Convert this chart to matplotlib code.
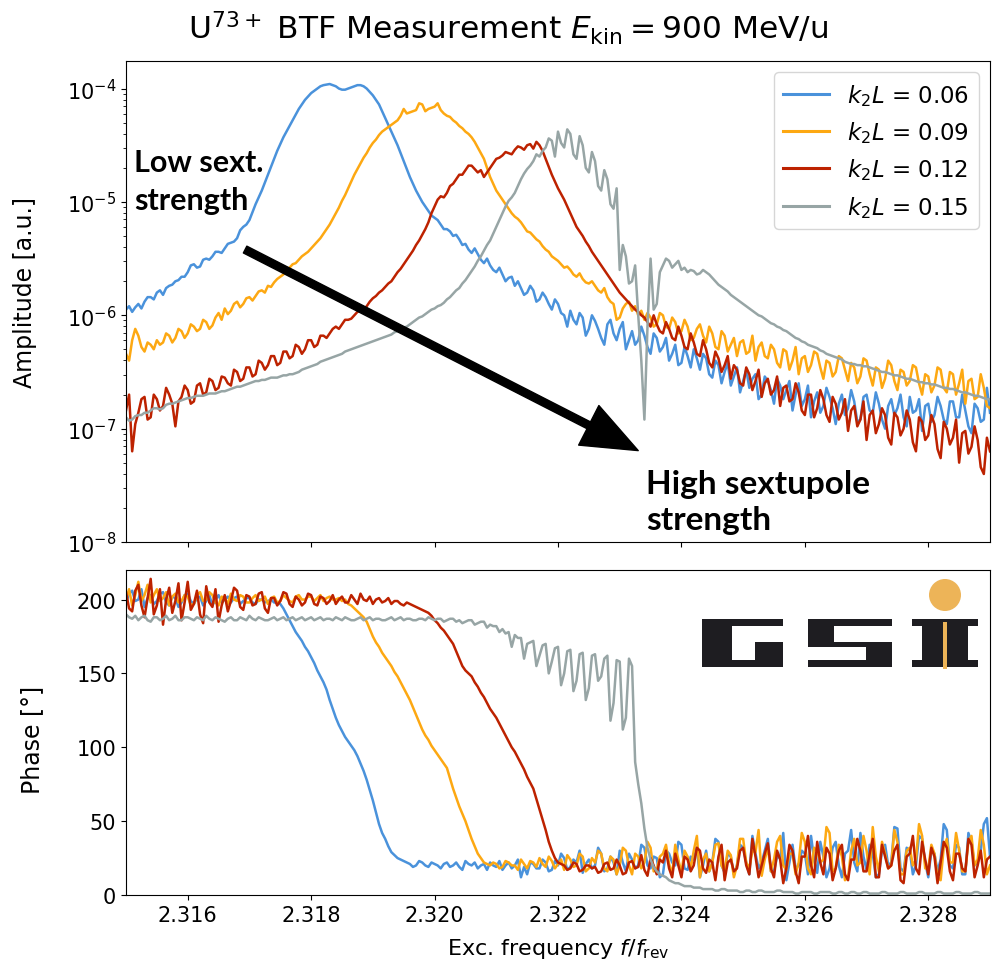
import numpy as np
import matplotlib
matplotlib.use("Agg")
import matplotlib.pyplot as plt
from matplotlib.patches import Rectangle, Circle

# excitation frequency grid (f / f_rev), 281 samples from 2.3150 to 2.3290
freq = np.linspace(2.315, 2.329, 281)

labels = ["$k_2L$ = 0.06", "$k_2L$ = 0.09", "$k_2L$ = 0.12", "$k_2L$ = 0.15"]
colors = ["#4A92DB", "#FDA812", "#BD2200", "#97A5A5"]

# log10 of BTF amplitude [a.u.]
log_amp_006 = [
    -5.95, -5.92, -5.97, -5.93, -5.90, -5.94, -5.88, -5.84, -5.84, -5.86,
    -5.80, -5.78, -5.82, -5.76, -5.74, -5.73, -5.70, -5.69, -5.66, -5.66,
    -5.62, -5.56, -5.55, -5.58, -5.57, -5.51, -5.50, -5.51, -5.48, -5.44,
    -5.44, -5.45, -5.41, -5.37, -5.36, -5.35, -5.32, -5.25, -5.22, -5.20,
    -5.16, -5.09, -5.02, -4.96, -4.90, -4.83, -4.76, -4.69, -4.62, -4.55,
    -4.49, -4.43, -4.38, -4.33, -4.28, -4.23, -4.18, -4.14, -4.10, -4.07,
    -4.04, -4.02, -4.00, -3.98, -3.97, -3.965, -3.96, -3.97, -3.98, -4.00,
    -4.01, -4.01, -4.00, -3.99, -3.98, -3.97, -3.97, -3.98, -4.00, -4.03,
    -4.06, -4.10, -4.14, -4.20, -4.26, -4.32, -4.38, -4.44, -4.50, -4.57,
    -4.64, -4.71, -4.78, -4.84, -4.90, -4.95, -5.00, -5.04, -5.08, -5.12,
    -5.14, -5.16, -5.20, -5.24, -5.24, -5.26, -5.30, -5.29, -5.33, -5.38,
    -5.37, -5.42, -5.45, -5.41, -5.46, -5.51, -5.54, -5.50, -5.56, -5.60,
    -5.62, -5.58, -5.64, -5.70, -5.67, -5.66, -5.74, -5.70, -5.76, -5.82,
    -5.80, -5.74, -5.78, -5.88, -5.86, -5.80, -5.84, -5.90, -5.95, -5.86,
    -5.90, -5.98, -6.00, -6.10, -5.96, -6.04, -6.08, -5.98, -6.02, -6.18,
    -6.12, -6.00, -6.05, -6.12, -6.20, -6.26, -6.08, -6.04, -6.16, -6.22,
    -6.12, -6.06, -6.30, -6.22, -6.14, -6.26, -6.22, -6.10, -6.18, -6.28,
    -6.34, -6.16, -6.20, -6.32, -6.28, -6.20, -6.40, -6.34, -6.26, -6.44,
    -6.42, -6.28, -6.36, -6.46, -6.30, -6.38, -6.48, -6.34, -6.38, -6.52,
    -6.55, -6.40, -6.44, -6.60, -6.50, -6.42, -6.62, -6.54, -6.46, -6.68,
    -6.58, -6.48, -6.64, -6.56, -6.52, -6.74, -6.70, -6.54, -6.58, -6.66,
    -6.78, -6.56, -6.62, -6.74, -6.66, -6.58, -6.84, -6.70, -6.60, -6.80,
    -6.74, -6.62, -6.90, -6.76, -6.68, -6.86, -6.80, -6.64, -6.72, -6.82,
    -6.96, -6.78, -6.70, -6.88, -6.82, -6.66, -6.76, -6.94, -6.92, -6.72,
    -6.70, -6.84, -6.86, -6.68, -6.78, -6.92, -7.00, -6.80, -6.74, -6.88,
    -6.82, -6.70, -6.90, -6.98, -6.72, -6.86, -6.84, -6.74, -7.02, -6.80,
    -6.78, -6.94, -6.88, -6.72, -6.80, -6.92, -6.96, -6.76, -6.76, -6.90,
    -6.90, -6.70, -6.84, -6.98, -7.04, -6.78, -6.82, -6.94, -6.92, -6.64,
    -6.86,
]
log_amp_009 = [
    -6.34, -6.40, -6.22, -6.12, -6.18, -6.28, -6.32, -6.24, -6.26, -6.30,
    -6.22, -6.26, -6.24, -6.16, -6.18, -6.24, -6.20, -6.12, -6.14, -6.20,
    -6.16, -6.08, -6.10, -6.14, -6.12, -6.04, -6.06, -6.12, -6.09, -6.02,
    -5.98, -6.04, -5.94, -5.99, -5.96, -5.90, -5.88, -5.93, -5.90, -5.85,
    -5.84, -5.87, -5.83, -5.79, -5.78, -5.80, -5.74, -5.75, -5.71, -5.68,
    -5.66, -5.64, -5.60, -5.58, -5.55, -5.54, -5.51, -5.48, -5.46, -5.44,
    -5.41, -5.38, -5.35, -5.32, -5.28, -5.24, -5.20, -5.15, -5.10, -5.05,
    -4.99, -4.94, -4.88, -4.82, -4.76, -4.71, -4.66, -4.61, -4.57, -4.52,
    -4.48, -4.45, -4.41, -4.38, -4.36, -4.34, -4.32, -4.30, -4.28, -4.24,
    -4.18, -4.22, -4.21, -4.20, -4.19, -4.13, -4.14, -4.20, -4.18, -4.17,
    -4.16, -4.13, -4.19, -4.22, -4.24, -4.25, -4.28, -4.30, -4.33, -4.35,
    -4.38, -4.40, -4.43, -4.47, -4.52, -4.57, -4.62, -4.70, -4.78, -4.84,
    -4.90, -4.94, -4.98, -5.02, -5.06, -5.10, -5.13, -5.15, -5.18, -5.22,
    -5.26, -5.27, -5.30, -5.33, -5.35, -5.39, -5.42, -5.44, -5.48, -5.50,
    -5.52, -5.55, -5.58, -5.57, -5.60, -5.64, -5.66, -5.63, -5.68, -5.71,
    -5.72, -5.70, -5.74, -5.78, -5.80, -5.76, -5.84, -5.88, -5.90, -6.04,
    -6.02, -5.94, -5.90, -5.88, -5.96, -5.92, -6.00, -5.96, -6.04, -5.98,
    -6.02, -6.10, -6.08, -5.98, -6.00, -6.10, -6.12, -6.02, -6.06, -6.16,
    -6.14, -6.04, -6.10, -6.22, -6.20, -6.12, -6.08, -6.18, -6.24, -6.10,
    -6.16, -6.28, -6.30, -6.14, -6.18, -6.32, -6.26, -6.20, -6.36, -6.24,
    -6.22, -6.34, -6.32, -6.18, -6.40, -6.28, -6.24, -6.36, -6.38, -6.26,
    -6.30, -6.42, -6.46, -6.30, -6.32, -6.48, -6.40, -6.28, -6.52, -6.38,
    -6.36, -6.50, -6.44, -6.32, -6.34, -6.46, -6.56, -6.40, -6.42, -6.54,
    -6.50, -6.36, -6.38, -6.48, -6.58, -6.42, -6.46, -6.60, -6.54, -6.38,
    -6.40, -6.52, -6.62, -6.46, -6.48, -6.64, -6.56, -6.40, -6.44, -6.58,
    -6.66, -6.48, -6.50, -6.62, -6.58, -6.44, -6.46, -6.60, -6.70, -6.52,
    -6.54, -6.68, -6.62, -6.46, -6.48, -6.64, -6.68, -6.50, -6.52, -6.70,
    -6.60, -6.48, -6.78, -6.58, -6.56, -6.74, -6.72, -6.52, -6.64, -6.80,
    -6.82,
]
log_amp_012 = [
    -6.84, -6.70, -7.20, -6.96, -6.86, -6.74, -6.72, -6.92, -6.90, -6.70,
    -6.74, -6.84, -6.80, -6.64, -6.70, -6.78, -6.98, -6.76, -6.72, -6.62,
    -6.66, -6.78, -6.76, -6.62, -6.60, -6.70, -6.68, -6.56, -6.58, -6.66,
    -6.64, -6.54, -6.55, -6.60, -6.62, -6.48, -6.50, -6.58, -6.56, -6.46,
    -6.46, -6.54, -6.52, -6.40, -6.42, -6.48, -6.44, -6.36, -6.36, -6.44,
    -6.42, -6.32, -6.32, -6.38, -6.36, -6.26, -6.28, -6.34, -6.30, -6.22,
    -6.22, -6.28, -6.26, -6.18, -6.18, -6.20, -6.16, -6.12, -6.10, -6.12,
    -6.08, -6.04, -6.04, -6.03, -6.00, -5.97, -5.96, -5.95, -5.92, -5.88,
    -5.85, -5.83, -5.80, -5.78, -5.75, -5.72, -5.70, -5.66, -5.62, -5.59,
    -5.55, -5.51, -5.47, -5.43, -5.38, -5.34, -5.29, -5.24, -5.18, -5.10,
    -5.04, -4.98, -4.95, -4.96, -4.92, -4.86, -4.84, -4.80, -4.76, -4.76,
    -4.72, -4.68, -4.68, -4.71, -4.74, -4.72, -4.78, -4.74, -4.70, -4.66,
    -4.62, -4.61, -4.59, -4.56, -4.57, -4.58, -4.54, -4.51, -4.52, -4.54,
    -4.50, -4.49, -4.53, -4.47, -4.50, -4.55, -4.62, -4.69, -4.76, -4.82,
    -4.88, -4.93, -4.98, -5.04, -5.10, -5.16, -5.22, -5.26, -5.30, -5.35,
    -5.39, -5.44, -5.48, -5.52, -5.56, -5.60, -5.64, -5.68, -5.72, -5.76,
    -5.80, -5.83, -5.86, -5.89, -5.92, -5.95, -5.97, -6.00, -6.02, -6.06,
    -6.10, -6.00, -6.08, -6.14, -6.16, -6.06, -6.12, -6.20, -6.22, -6.10,
    -6.18, -6.28, -6.30, -6.16, -6.24, -6.34, -6.36, -6.22, -6.30, -6.42,
    -6.46, -6.32, -6.38, -6.50, -6.44, -6.36, -6.56, -6.44, -6.48, -6.60,
    -6.62, -6.46, -6.52, -6.66, -6.58, -6.48, -6.72, -6.60, -6.56, -6.70,
    -6.66, -6.54, -6.80, -6.64, -6.62, -6.76, -6.74, -6.60, -6.68, -6.84,
    -6.88, -6.70, -6.70, -6.90, -6.82, -6.66, -6.74, -6.88, -6.94, -6.72,
    -6.78, -6.92, -6.86, -6.74, -7.02, -6.84, -6.80, -6.98, -6.92, -6.76,
    -7.10, -6.88, -6.84, -7.04, -6.96, -6.82, -6.88, -7.08, -7.14, -6.86,
    -6.90, -7.06, -7.00, -6.84, -6.92, -7.12, -7.20, -6.90, -6.94, -7.10,
    -7.06, -6.88, -6.96, -7.18, -7.26, -6.94, -7.00, -7.14, -7.08, -6.92,
    -7.30, -7.04, -7.02, -7.22, -7.16, -6.98, -7.10, -7.34, -7.40, -7.08,
    -7.20,
]
log_amp_015 = [
    -6.90, -6.93, -6.92, -6.89, -6.88, -6.88, -6.86, -6.86, -6.84, -6.82,
    -6.82, -6.83, -6.82, -6.79, -6.78, -6.78, -6.77, -6.76, -6.75, -6.74,
    -6.73, -6.73, -6.72, -6.71, -6.71, -6.71, -6.70, -6.69, -6.69, -6.69,
    -6.68, -6.67, -6.67, -6.66, -6.65, -6.64, -6.63, -6.63, -6.62, -6.61,
    -6.60, -6.59, -6.58, -6.58, -6.57, -6.57, -6.56, -6.55, -6.55, -6.55,
    -6.54, -6.53, -6.53, -6.52, -6.52, -6.51, -6.50, -6.48, -6.47, -6.46,
    -6.45, -6.44, -6.43, -6.41, -6.40, -6.39, -6.38, -6.37, -6.36, -6.35,
    -6.34, -6.32, -6.31, -6.30, -6.29, -6.28, -6.27, -6.26, -6.25, -6.24,
    -6.23, -6.22, -6.21, -6.20, -6.19, -6.18, -6.17, -6.15, -6.14, -6.12,
    -6.11, -6.10, -6.08, -6.06, -6.04, -6.02, -6.01, -5.99, -5.97, -5.95,
    -5.94, -5.92, -5.91, -5.89, -5.86, -5.84, -5.81, -5.78, -5.76, -5.72,
    -5.69, -5.65, -5.61, -5.57, -5.52, -5.48, -5.43, -5.38, -5.34, -5.28,
    -5.22, -5.16, -5.10, -5.04, -4.99, -4.96, -4.92, -4.86, -4.80, -4.75,
    -4.71, -4.68, -4.64, -4.58, -4.60, -4.55, -4.52, -4.44, -4.46, -4.60,
    -4.38, -4.48, -4.52, -4.36, -4.40, -4.58, -4.62, -4.42, -4.50, -4.70,
    -4.74, -4.56, -4.64, -4.86, -4.90, -4.72, -4.80, -5.02, -5.06, -4.88,
    -5.60, -5.38, -5.48, -5.72, -5.70, -5.56, -6.00, -6.40, -6.92, -6.10,
    -5.50, -5.95, -5.90, -5.62, -5.56, -5.50, -5.52, -5.58, -5.55, -5.52,
    -5.60, -5.58, -5.62, -5.60, -5.61, -5.64, -5.63, -5.60, -5.62, -5.64,
    -5.67, -5.70, -5.73, -5.75, -5.77, -5.79, -5.82, -5.84, -5.86, -5.88,
    -5.90, -5.92, -5.94, -5.96, -5.98, -6.00, -6.01, -6.03, -6.05, -6.07,
    -6.08, -6.10, -6.11, -6.13, -6.14, -6.16, -6.18, -6.20, -6.21, -6.23,
    -6.24, -6.26, -6.27, -6.28, -6.29, -6.31, -6.32, -6.34, -6.35, -6.36,
    -6.37, -6.38, -6.39, -6.41, -6.42, -6.43, -6.43, -6.44, -6.44, -6.45,
    -6.45, -6.46, -6.47, -6.48, -6.49, -6.50, -6.50, -6.51, -6.52, -6.53,
    -6.53, -6.54, -6.55, -6.56, -6.56, -6.57, -6.58, -6.59, -6.59, -6.60,
    -6.60, -6.61, -6.61, -6.62, -6.63, -6.64, -6.64, -6.65, -6.65, -6.66,
    -6.67, -6.68, -6.68, -6.69, -6.70, -6.71, -6.71, -6.72, -6.73, -6.74,
    -6.74,
]

# BTF phase [deg]
phase_006 = [
    198, 204, 206, 199, 200, 207, 195, 201, 203, 197,
    199, 204, 205, 198, 196, 202, 201, 195, 198, 203,
    204, 199, 197, 201, 202, 196, 199, 203, 196, 200,
    203, 198, 200, 202, 198, 201, 202, 197, 199, 201,
    201, 198, 197, 200, 200, 198, 199, 200, 198, 198,
    197, 194, 190, 186, 182, 178, 175, 172, 168, 165,
    161, 157, 152, 148, 144, 139, 132, 126, 120, 115,
    111, 107, 104, 101, 98, 94, 89, 84, 78, 71,
    64, 56, 48, 42, 38, 33, 29, 27, 25, 24,
    23, 22, 21, 19, 20, 23, 22, 20, 19, 22,
    21, 20, 18, 21, 22, 19, 20, 22, 19, 17,
    23, 21, 20, 22, 18, 20, 21, 17, 22, 20,
    19, 23, 17, 20, 22, 18, 20, 24, 12, 19,
    14, 22, 21, 18, 18, 24, 22, 16, 17, 23,
    20, 28, 25, 17, 19, 24, 22, 30, 15, 21,
    24, 18, 20, 32, 28, 16, 18, 26, 22, 14,
    30, 22, 16, 28, 24, 18, 20, 34, 32, 20,
    18, 26, 25, 12, 14, 30, 28, 22, 20, 36,
    34, 18, 17, 26, 24, 32, 12, 20, 30, 16,
    22, 38, 36, 20, 15, 28, 26, 14, 20, 34,
    32, 22, 14, 40, 28, 18, 22, 30, 38, 16,
    16, 26, 25, 42, 10, 22, 34, 18, 20, 30,
    28, 14, 40, 24, 15, 36, 26, 12, 18, 32,
    36, 20, 12, 28, 30, 44, 22, 16, 42, 26,
    17, 34, 28, 12, 14, 30, 34, 20, 22, 46,
    45, 18, 16, 32, 30, 14, 20, 40, 38, 22,
    12, 30, 28, 16, 24, 48, 44, 20, 18, 34,
    32, 14, 14, 42, 36, 20, 22, 30, 48, 52,
    26,
]
phase_009 = [
    200, 207, 196, 203, 212, 199, 203, 210, 198, 203,
    207, 199, 201, 205, 196, 202, 204, 198, 199, 203,
    202, 196, 197, 203, 205, 199, 200, 205, 203, 198,
    196, 202, 201, 197, 204, 200, 199, 203, 202, 198,
    198, 201, 203, 199, 200, 202, 197, 201, 202, 198,
    199, 203, 201, 199, 198, 202, 203, 200, 200, 202,
    202, 199, 201, 203, 199, 201, 202, 200, 200, 201,
    199, 200, 197, 196, 194, 192, 190, 188, 185, 180,
    175, 171, 168, 164, 161, 158, 155, 151, 148, 144,
    140, 136, 132, 127, 122, 117, 112, 108, 105, 101,
    98, 95, 92, 89, 86, 79, 72, 66, 60, 55,
    50, 44, 38, 33, 28, 25, 22, 21, 20, 22,
    21, 18, 19, 23, 22, 20, 20, 17, 24, 21,
    18, 23, 22, 19, 25, 21, 19, 26, 23, 18,
    21, 24, 17, 27, 24, 19, 20, 28, 26, 16,
    18, 25, 22, 30, 28, 18, 16, 26, 24, 14,
    20, 32, 30, 20, 14, 28, 26, 18, 22, 36,
    32, 16, 17, 26, 28, 34, 21, 14, 34, 24,
    15, 30, 26, 18, 30, 40, 12, 24, 28, 16,
    22, 34, 35, 20, 16, 30, 27, 12, 20, 38,
    38, 22, 18, 30, 29, 44, 13, 24, 32, 16,
    24, 36, 40, 20, 17, 28, 28, 14, 22, 42,
    36, 18, 14, 32, 30, 22, 24, 46, 42, 16,
    18, 34, 26, 10, 12, 30, 38, 20, 22, 40,
    30, 14, 46, 26, 16, 36, 28, 18, 20, 44,
    36, 14, 14, 30, 32, 20, 24, 48, 40, 18,
    18, 34, 28, 12, 10, 32, 38, 22, 22, 42,
    30, 16, 16, 36, 40, 20, 24, 44, 34, 14,
    20,
]
phase_012 = [
    205, 194, 192, 206, 210, 196, 188, 201, 214, 190,
    196, 207, 183, 200, 208, 191, 199, 211, 186, 198,
    212, 193, 197, 206, 190, 184, 209, 198, 195, 207,
    185, 196, 203, 192, 199, 208, 206, 195, 193, 203,
    202, 196, 197, 204, 205, 194, 191, 201, 201, 196,
    199, 205, 204, 197, 195, 202, 200, 196, 198, 204,
    203, 197, 196, 202, 201, 197, 199, 203, 197, 200,
    202, 198, 198, 203, 200, 197, 204, 200, 199, 202,
    197, 200, 201, 198, 199, 201, 197, 199, 199, 197,
    196, 198, 197, 196, 195, 194, 193, 192, 191, 189,
    186, 184, 181, 179, 176, 173, 170, 165, 160, 155,
    152, 150, 148, 144, 141, 137, 134, 130, 126, 123,
    120, 116, 112, 108, 104, 100, 97, 93, 89, 85,
    80, 76, 72, 65, 58, 51, 44, 36, 30, 25,
    22, 21, 20, 17, 18, 22, 21, 16, 17, 20,
    20, 18, 19, 15, 16, 21, 22, 17, 18, 24,
    20, 14, 15, 22, 23, 18, 19, 27, 17, 13,
    25, 20, 14, 24, 22, 30, 18, 12, 28, 20,
    12, 26, 24, 16, 20, 32, 30, 18, 15, 24,
    22, 10, 26, 34, 10, 22, 24, 16, 18, 30,
    32, 20, 14, 38, 26, 12, 20, 28, 35, 18,
    12, 30, 24, 8, 18, 34, 30, 16, 8, 26,
    26, 40, 20, 12, 36, 22, 14, 32, 28, 10,
    18, 30, 34, 14, 10, 24, 24, 38, 30, 16,
    16, 28, 38, 12, 12, 34, 26, 18, 20, 30,
    34, 10, 8, 26, 28, 40, 18, 14, 36, 24,
    14, 32, 26, 8, 22, 36, 32, 16, 10, 28,
    28, 18, 16, 38, 34, 12, 20, 30, 12, 24,
    26,
]
phase_015 = [
    190, 188, 187, 189, 186, 188, 189, 186, 185, 188,
    188, 186, 187, 189, 186, 187, 189, 186, 186, 188,
    188, 187, 186, 188, 187, 186, 189, 187, 186, 188,
    187, 186, 185, 187, 188, 186, 186, 188, 187, 186,
    189, 187, 186, 188, 187, 186, 186, 187, 188, 186,
    187, 188, 186, 187, 188, 186, 187, 188, 186, 187,
    188, 186, 187, 188, 186, 187, 187, 186, 188, 187,
    186, 188, 187, 186, 186, 187, 188, 186, 187, 188,
    186, 187, 187, 186, 186, 187, 188, 186, 187, 188,
    186, 187, 187, 186, 186, 187, 187, 186, 188, 187,
    186, 187, 187, 185, 186, 187, 187, 185, 186, 184,
    185, 186, 186, 183, 184, 185, 185, 181, 183, 182,
    182, 178, 180, 177, 178, 168, 176, 174, 174, 160,
    170, 171, 172, 155, 162, 169, 170, 150, 158, 167,
    168, 142, 150, 165, 166, 138, 145, 163, 164, 132,
    140, 162, 163, 145, 148, 160, 162, 118, 130, 159,
    158, 112, 120, 160, 155, 90, 75, 62, 45, 32,
    24, 19, 16, 14, 13, 12, 10, 9, 8, 8,
    7, 6, 6, 6, 5, 5, 5, 4, 4, 4,
    4, 3, 3, 4, 4, 3, 3, 3, 3, 2,
    2, 3, 3, 2, 2, 3, 3, 2, 2, 2,
    2, 3, 3, 2, 2, 2, 2, 1, 1, 2,
    2, 2, 2, 1, 1, 2, 2, 2, 2, 1,
    1, 2, 2, 1, 1, 2, 2, 1, 1, 2,
    2, 1, 1, 1, 1, 2, 2, 1, 1, 1,
    1, 2, 2, 1, 1, 1, 1, 2, 2, 1,
    1, 1, 1, 2, 2, 1, 1, 1, 1, 2,
    2, 1, 1, 1, 1, 2, 2, 1, 1, 1,
    1,
]

amplitudes = [log_amp_006, log_amp_009, log_amp_012, log_amp_015]
phases = [phase_006, phase_009, phase_012, phase_015]

W, H = 997, 970
fig = plt.figure(figsize=(W / 100, H / 100), dpi=100)
ax1 = fig.add_axes([126 / W, 1 - 543 / H, 864 / W, 481 / H])
ax2 = fig.add_axes([126 / W, 1 - 896 / H, 864 / W, 325 / H], sharex=ax1)

for amp, ph, c, lab in zip(amplitudes, phases, colors, labels):
    ax1.plot(freq, 10.0 ** np.array(amp), color=c, lw=1.8, label=lab)
    ax2.plot(freq, ph, color=c, lw=1.8)

ax1.set_yscale("log")
ax1.set_ylim(1e-8, 1.75e-4)
ax1.set_xlim(2.315, 2.329)
ax1.set_ylabel("Amplitude [a.u.]", fontsize=17)
ax1.yaxis.set_label_coords(-0.103, 0.52)
ax1.tick_params(labelbottom=False, labelsize=15)
leg = ax1.legend(loc="upper right", fontsize=16.5, handlelength=2.0)
for line in leg.get_lines():
    line.set_linewidth(2.2)

ax2.set_ylim(0, 220)
ax2.set_yticks([0, 50, 100, 150, 200])
ax2.set_xticks([2.316, 2.318, 2.320, 2.322, 2.324, 2.326, 2.328])
ax2.set_xticklabels(["%.3f" % t for t in ax2.get_xticks()])
ax2.tick_params(labelsize=15)
ax2.set_ylabel("Phase [°]", fontsize=17)
ax2.yaxis.set_label_coords(-0.095, 0.48)
ax2.set_xlabel(r"Exc. frequency $f/f_\mathrm{rev}$", fontsize=16, labelpad=8)

fig.suptitle(r"U$^{73+}$ BTF Measurement $E_\mathrm{kin} = 900$ MeV/u",
             x=0.51, y=0.99, fontsize=22.5)

# arrow from low to high sextupole strength
ax1.annotate("", xy=(2.3233, 6.4e-8), xytext=(2.31693, 3.8e-6),
             arrowprops=dict(facecolor="black", edgecolor="black",
                             width=5.5, headwidth=32, headlength=40))
ax1.text(2.31513, 8.6e-6, "Low sext.\nstrength", fontsize=22,
         fontweight="bold", family="Lato", ha="left", va="baseline",
         linespacing=1.45)
ax1.text(2.32342, 1.3e-8, "High sextupole\nstrength", fontsize=24,
         fontweight="bold", family="Lato", ha="left", va="baseline",
         linespacing=1.3)


# GSI logo, drawn in pixel coordinates (origin top-left)
def px_rect(x0, y0, x1, y1, color):
    fig.patches.append(Rectangle((x0 / 100, (H - y1) / 100), (x1 - x0) / 100,
                                 (y1 - y0) / 100, transform=fig.dpi_scale_trans,
                                 facecolor=color, edgecolor="none", zorder=10))


dark = "#1E1D21"
gold = "#EDB458"
# G
px_rect(702, 620, 783, 668, dark)
px_rect(732, 627, 784, 643, "white")
px_rect(732, 643, 755, 661, "white")
# S
px_rect(808, 620, 892, 668, dark)
px_rect(834, 627, 893, 643, "white")
px_rect(807, 648, 866, 661, "white")
# i
px_rect(912, 620, 978, 627, dark)
px_rect(922, 627, 968, 662, dark)
px_rect(912, 661, 978, 668, dark)
px_rect(943, 623, 947, 670, gold)
fig.patches.append(Circle((945 / 100, (H - 596) / 100), 16 / 100,
                          transform=fig.dpi_scale_trans, facecolor=gold,
                          edgecolor="none", zorder=10))

fig.savefig("out.png", dpi=100)
